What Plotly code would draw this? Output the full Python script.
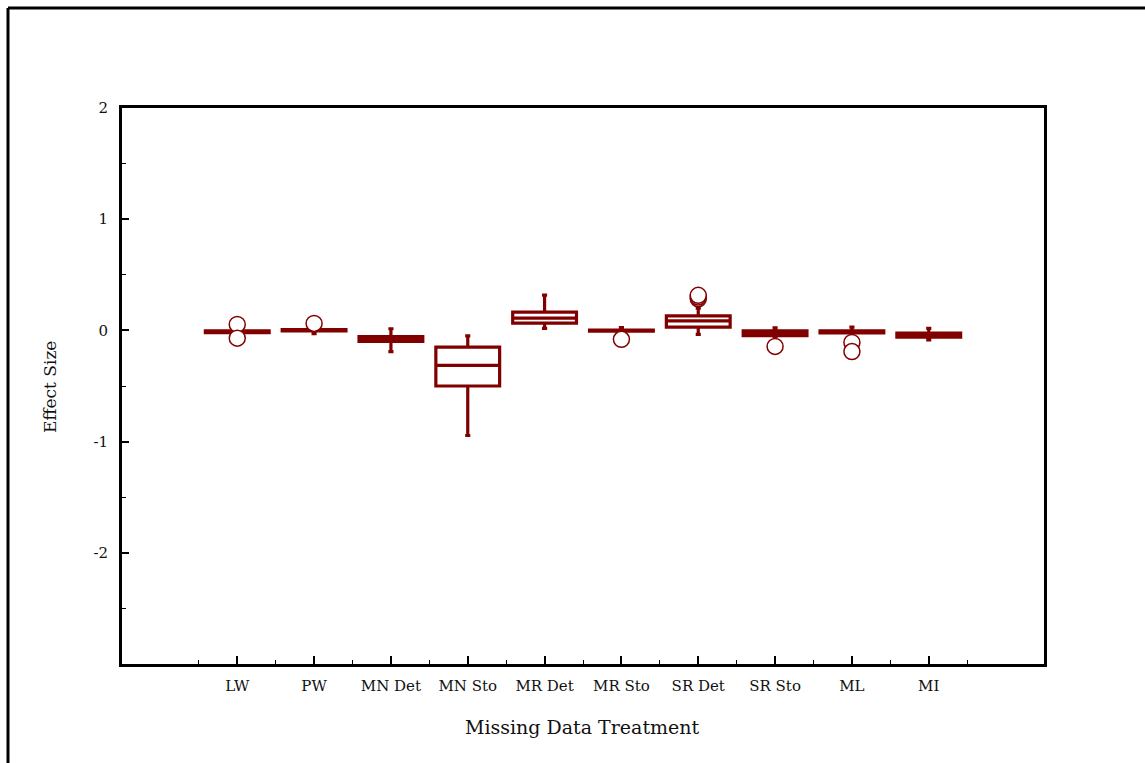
import plotly.graph_objects as go

categories = ["LW", "PW", "MN Det", "MN Sto", "MR Det", "MR Sto", "SR Det", "SR Sto", "ML", "MI"]
q1_vals = [-0.020, -0.004, -0.100, -0.500, 0.065, -0.006, 0.030, -0.047, -0.022, -0.061]
median_vals = [-0.012, 0.002, -0.078, -0.315, 0.110, -0.002, 0.085, -0.026, -0.012, -0.043]
q3_vals = [-0.005, 0.008, -0.055, -0.150, 0.165, 0.003, 0.130, -0.005, -0.003, -0.025]
lower_vals = [-0.025, -0.030, -0.190, -0.945, 0.018, -0.010, -0.035, -0.055, -0.030, -0.085]
upper_vals = [0.000, 0.012, 0.015, -0.050, 0.318, 0.025, 0.200, 0.024, 0.030, 0.018]

outlier_cats = ["LW", "LW", "PW", "MR Sto", "SR Det", "SR Det", "SR Det", "SR Sto", "ML", "ML"]
outlier_vals = [0.054, -0.070, 0.063, -0.080, 0.285, 0.300, 0.315, -0.144, -0.108, -0.190]

y_tick_vals = [-2, -1, 0, 1, 2]
y_tick_text = ["-2", "-1", "0", "1", "2"]

COLOR = "#800000"
FONT = "DejaVu Serif"

positions = list(range(len(categories)))
idx = {c: i for i, c in enumerate(categories)}

fig = go.Figure()
fig.add_trace(go.Box(
    x=positions,
    q1=q1_vals, median=median_vals, q3=q3_vals,
    lowerfence=lower_vals, upperfence=upper_vals,
    width=0.83, whiskerwidth=0.08,
    line=dict(color=COLOR, width=3.2),
    fillcolor="rgba(0,0,0,0)",
    boxpoints=False, showlegend=False,
))
fig.add_trace(go.Scatter(
    x=[idx[c] for c in outlier_cats], y=outlier_vals,
    mode="markers",
    marker=dict(symbol="circle", size=16, color="white",
                line=dict(color=COLOR, width=1.5)),
    showlegend=False,
))

W, H = 1145, 763
L, R, T, B = 122, 1044, 108, 664
pw, ph = R - L, B - T

def px(x):
    return (x - L) / pw

def py(y):
    return (B - y) / ph

fig.update_layout(
    width=W, height=H,
    margin=dict(l=L, r=W - R, t=T, b=H - B, autoexpand=False),
    paper_bgcolor="white", plot_bgcolor="white",
    font=dict(family=FONT, color="#111111"),
    xaxis=dict(
        range=[-1.5, 10.5], tickmode="array", tickvals=positions, ticktext=categories,
        ticks="inside", ticklen=8, tickwidth=1.5, tickcolor="black",
        minor=dict(tickmode="array", tickvals=[p + 0.5 for p in range(-1, 10)],
                   ticks="inside", ticklen=4, tickwidth=1, tickcolor="black"),
        showline=True, linecolor="black", linewidth=3, mirror=True,
        showgrid=False, zeroline=False,
        tickfont=dict(size=15, family=FONT), ticklabelstandoff=6,
    ),
    yaxis=dict(
        range=[-3, 2], tickmode="array", tickvals=y_tick_vals, ticktext=y_tick_text,
        ticks="inside", ticklen=7, tickwidth=1.5, tickcolor="black",
        minor=dict(tickmode="array", tickvals=[-2.5, -1.5, -0.5, 0.5, 1.5],
                   ticks="inside", ticklen=4, tickwidth=1, tickcolor="black"),
        showline=True, linecolor="black", linewidth=3, mirror=True,
        showgrid=False, zeroline=False,
        tickfont=dict(size=15, family=FONT), ticklabelstandoff=8,
    ),
    annotations=[
        dict(text="Missing Data Treatment", x=px(582), y=py(727), xref="paper", yref="paper",
             showarrow=False, xanchor="center", yanchor="middle",
             font=dict(size=19, family=FONT, color="#111111")),
        dict(text="Effect Size", x=px(50), y=py(387), xref="paper", yref="paper",
             showarrow=False, xanchor="center", yanchor="middle", textangle=-90,
             font=dict(size=17, family=FONT, color="#111111")),
    ],
    shapes=[
        dict(type="line", xref="paper", yref="paper", x0=px(8), x1=px(8), y0=py(8), y1=py(770),
             line=dict(color="black", width=3)),
        dict(type="line", xref="paper", yref="paper", x0=px(8), x1=px(1150), y0=py(8), y1=py(8),
             line=dict(color="black", width=3)),
    ],
)

fig.write_html("out.html", config={"displayModeBar": False},
               post_script="document.body.style.margin='0';document.body.style.overflow='hidden';")
